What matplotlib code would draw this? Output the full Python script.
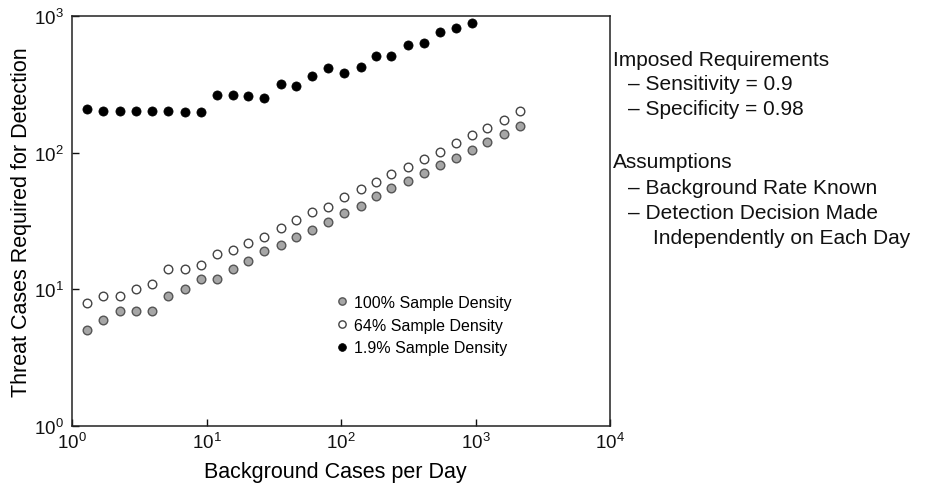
import matplotlib
matplotlib.use("Agg")
import matplotlib.pyplot as plt
import matplotlib.transforms as mtransforms
from matplotlib.ticker import LogLocator, NullLocator

plt.rcParams["font.family"] = ["Liberation Sans", "DejaVu Sans"]
plt.rcParams["mathtext.default"] = "regular"

# background cases per day (shared grid for all three sample densities)
background = [1.29, 1.71, 2.28, 3.0, 3.93, 5.17, 6.89, 9.02, 11.9, 15.6,
              20.5, 26.9, 35.5, 46.6, 61.3, 80.0, 106, 140, 181, 237,
              315, 414, 545, 714, 934, 1222, 1623, 2153]

# threat cases required for detection
density_100 = [5, 6, 7, 7, 7, 9, 10, 12, 12, 14, 16, 19, 21, 24, 27, 31,
               36, 41, 48, 55, 62, 71, 81, 92, 105, 120, 137, 157]
density_64 = [8, 9, 9, 10, 11, 14, 14, 15, 18, 19.5, 22, 24, 28, 32, 37, 40,
              47, 54, 61, 70, 78, 90, 102, 118, 135, 151, 174, 201]
density_1_9 = [208, 203, 203, 203, 203, 203, 197, 197, 265, 265, 261, 252,
               318, 305, 362, 414, 382, 421, 506, 512, 612, 637, 759, 820, 883]

series_labels = ["100% Sample Density", "64% Sample Density", "1.9% Sample Density"]

fig = plt.figure(figsize=(9.27, 4.89), dpi=100)
fig.patch.set_facecolor("white")
ax = fig.add_axes([0.0777, 0.1268, 0.5804, 0.8384])

ax.plot(background, density_100, "o", ms=6.2, mfc="#a6a6a6", mec="#555555",
        mew=1.0, label=series_labels[0])
ax.plot(background, density_64, "o", ms=6.2, mfc="white", mec="#444444",
        mew=1.0, label=series_labels[1])
ax.plot(background[:len(density_1_9)], density_1_9, "o", ms=6.6, mfc="black",
        mec="black", mew=0.5, label=series_labels[2])

ax.set_xscale("log")
ax.set_yscale("log")
ax.set_xlim(1, 1e4)
ax.set_ylim(1, 1e3)
ax.xaxis.set_major_locator(LogLocator(base=10, numticks=10))
ax.yaxis.set_major_locator(LogLocator(base=10, numticks=10))
ax.xaxis.set_minor_locator(NullLocator())
ax.yaxis.set_minor_locator(NullLocator())
ax.tick_params(direction="in", length=5, width=1, labelsize=13.5,
               colors="#111111")
ax.tick_params(axis="y", pad=6)
ax.tick_params(axis="x", pad=4)
for s in ax.spines.values():
    s.set_linewidth(1.1)
    s.set_color("#222222")

# lift the lowest y label a little so it clears the first x label
fig.canvas.draw()
ax.get_yticklabels()[0].set_transform(
    ax.get_yticklabels()[0].get_transform()
    + mtransforms.ScaledTranslation(0, 3 / 100, fig.dpi_scale_trans))

ax.set_xlabel("Background Cases per Day", fontsize=15.5)
ax.xaxis.set_label_coords(0.49, -0.085)
ax.set_ylabel("Threat Cases Required for Detection", fontsize=15.5, labelpad=1)

ax.legend(loc="upper left", bbox_to_anchor=(0.478, 0.335), frameon=False,
          fontsize=11.5, handletextpad=0.35, labelspacing=0.48,
          handlelength=0.8, borderaxespad=0, markerscale=0.85)

# notes on the right of the plot
tx, dx, ix = 613 / 927, 628 / 927, 653 / 927
notes = [
    (tx, 60, "Imposed Requirements"),
    (dx, 85, "\u2013 Sensitivity = 0.9"),
    (dx, 110, "\u2013 Specificity = 0.98"),
    (tx, 163, "Assumptions"),
    (dx, 189, "\u2013 Background Rate Known"),
    (dx, 214, "\u2013 Detection Decision Made"),
    (ix, 239, "Independently on Each Day"),
]
for x, y, s in notes:
    fig.text(x, 1 - y / 489, s, fontsize=15, ha="left", va="center",
             color="#111111")

fig.savefig("out.png", dpi=100)
